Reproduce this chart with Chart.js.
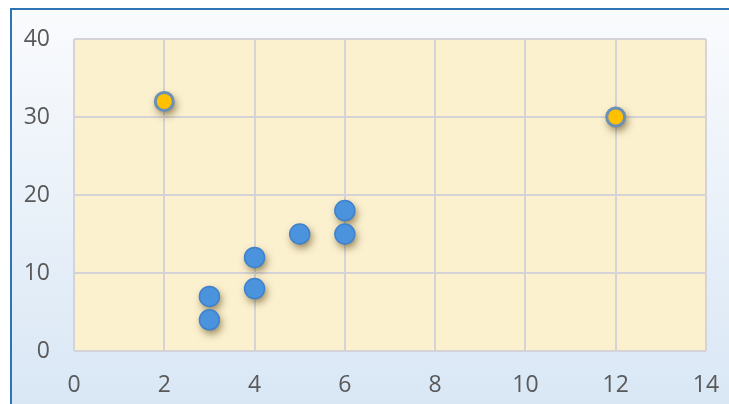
<!DOCTYPE html>
<html><head><meta charset="utf-8">
<script src="https://cdn.jsdelivr.net/npm/chart.js@4"></script>
<style>html,body{margin:0;padding:0;background:#fff}#w{width:729px;height:404px;position:relative}</style>
</head><body><div id="w"><canvas id="c" width="729" height="404"></canvas></div>
<script>
const blueX = [3, 3, 4, 4, 5, 6, 6];
const blueY = [7, 4, 12, 8, 15, 18, 15];
const orangeX = [2, 12];
const orangeY = [32, 30];
const xTicks = [0, 2, 4, 6, 8, 10, 12, 14];
const yTicks = [0, 10, 20, 30, 40];

const toPts = (xs, ys) => xs.map((x, i) => ({x: x, y: ys[i]}));

const bgPlugin = {
  id: 'bg',
  beforeDraw(chart) {
    const ctx = chart.ctx, a = chart.chartArea;
    ctx.save();
    const g = ctx.createLinearGradient(0, 8, 0, 404);
    g.addColorStop(0, '#fafbfd');
    g.addColorStop(1, '#d9e7f5');
    ctx.fillStyle = g;
    ctx.fillRect(10, 8, 719, 396);
    ctx.strokeStyle = '#2e75b6';
    ctx.lineWidth = 2;
    ctx.beginPath();
    ctx.moveTo(11, 404); ctx.lineTo(11, 9); ctx.lineTo(729, 9);
    ctx.stroke();
    ctx.fillStyle = '#fcf1cf';
    ctx.fillRect(a.left, a.top, a.right - a.left, a.bottom - a.top);
    ctx.restore();
  },
  beforeDatasetsDraw(chart) {
    const ctx = chart.ctx;
    ctx.save();
    ctx.shadowColor = 'rgba(70,50,0,0.65)';
    ctx.shadowBlur = 8;
    ctx.shadowOffsetX = 2;
    ctx.shadowOffsetY = 4;
    ctx.fillStyle = 'rgba(0,0,0,1)';
    chart.data.datasets.forEach((ds, i) => {
      chart.getDatasetMeta(i).data.forEach(el => {
        const r = el.options.radius + el.options.borderWidth / 2;
        ctx.beginPath();
        ctx.arc(el.x, el.y, r - 1, 0, Math.PI * 2);
        ctx.fill();
      });
    });
    ctx.restore();
  }
};

new Chart(document.getElementById('c'), {
  type: 'scatter',
  data: {
    datasets: [
      { data: toPts(blueX, blueY), backgroundColor: '#4c93de', borderColor: '#3f82cc', borderWidth: 1.5, pointRadius: 10, pointHoverRadius: 10 },
      { data: toPts(orangeX, orangeY), backgroundColor: '#ffc000', borderColor: '#6a90b4', borderWidth: 3, pointRadius: 9, pointHoverRadius: 9 }
    ]
  },
  options: {
    responsive: false, animation: false,
    layout: { padding: { left: 0, top: 39, right: 23, bottom: 0 } },
    plugins: { legend: { display: false }, tooltip: { enabled: false } },
    scales: {
      x: {
        type: 'linear', min: 0, max: 14,
        afterBuildTicks(s) { s.ticks = xTicks.map(v => ({value: v})); },
        afterFit(s) { s.height = 53; s.paddingLeft = 0; s.paddingRight = 0; },
        grid: { color: '#d6d3d6', lineWidth: 2, drawTicks: false },
        border: { display: false },
        ticks: { color: '#595959', font: { family: 'Open Sans', size: 23 }, padding: 21 }
      },
      y: {
        type: 'linear', min: 0, max: 40,
        afterBuildTicks(s) { s.ticks = yTicks.map(v => ({value: v})); },
        afterFit(s) { s.width = 74; s.paddingTop = 0; s.paddingBottom = 0; },
        grid: { color: '#d6d3d6', lineWidth: 2, drawTicks: false },
        border: { display: false },
        ticks: { color: '#595959', font: { family: 'Open Sans', size: 23 }, padding: 24 }
      }
    }
  },
  plugins: [bgPlugin]
});
</script></body></html>
